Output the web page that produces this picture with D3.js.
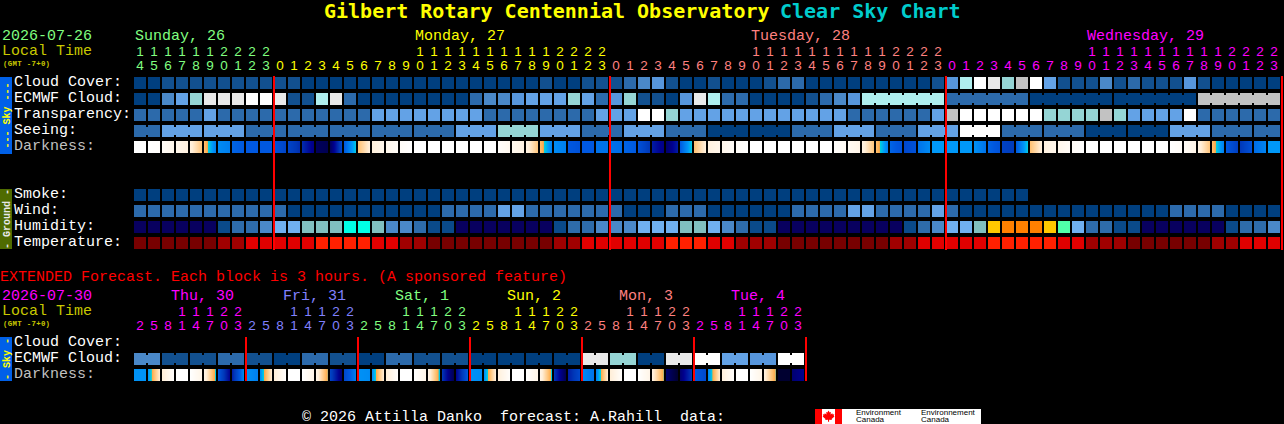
<!DOCTYPE html>
<html><head><meta charset="utf-8">
<script src="https://cdn.jsdelivr.net/npm/d3@7"></script>
<style>
html,body{margin:0;padding:0;background:#000;overflow:hidden}
svg{display:block}
text{font-family:"Liberation Mono",monospace;font-size:15px;white-space:pre}
text.digit{font-family:"Liberation Sans",sans-serif;font-size:13.5px}
</style></head><body>
<script>
// ---------- categories / tick labels ----------
const hourLabels = [14,15,16,17,18,19,20,21,22,23,
  0,1,2,3,4,5,6,7,8,9,10,11,12,13,14,15,16,17,18,19,20,21,22,23,
  0,1,2,3,4,5,6,7,8,9,10,11,12,13,14,15,16,17,18,19,20,21,22,23,
  0,1,2,3,4,5,6,7,8,9,10,11,12,13,14,15,16,17,18,19,20,21,22,23];
const hourDays = [0,0,0,0,0,0,0,0,0,0,
  1,1,1,1,1,1,1,1,1,1,1,1,1,1,1,1,1,1,1,1,1,1,1,1,
  2,2,2,2,2,2,2,2,2,2,2,2,2,2,2,2,2,2,2,2,2,2,2,2,
  3,3,3,3,3,3,3,3,3,3,3,3,3,3,3,3,3,3,3,3,3,3,3,3];
const dayNames = ["Sunday, 26","Monday, 27","Tuesday, 28","Wednesday, 29"];
const dayLabelCols = [0,20,44,68];
const dayColors = ["#80ff80","#ffff00","#ff8080","#ff00ff"];
const dayBoundaryCols = [10,34,58,82];
const skyRows = ["Cloud Cover:","ECMWF Cloud:","Transparency:","Seeing:","Darkness:"];
const groundRows = ["Smoke:","Wind:","Humidity:","Temperature:"];

// ---------- hourly series (levels into the palettes below) ----------
const cloudCover = [0,0,1,1,1,1,1,1,1,1, 1,1,0,0,0,0,0,0,0,0, 0,0,0,0,0,0,0,0,0,1, 0,0,1,1,1,2,3,4,1,0,
  0,1,0,0,0,1,2,2,0,0, 0,0,0,0,0,0,0,1,4,7, 10,8,6,9,10,5,1,1,1,3, 1,2,1,1,1,4,1,0,0,0, 0,0];
const ecmwfCloud = [0,0,3,5,6,8,8,8,10,10, 8,1,1,7,8,2,0,0,0,0, 0,0,0,0,2,3,3,4,5,5, 5,6,5,2,4,6,1,1,0,4,
  8,7,2,2,0,0,0,0,1,2, 3,4, 7,7,7,7,7,7, 2,2,2,2,2,2, 0,0,0,0,0,0, 0,0,0,0,0,0, 9,9,9,9,9,9];
const transparency = [2,2,2,2,2,5,2,2,2,2, 2,2,2,2,2,2,2,5,5,5, 5,5,5,5,5,2,2,2,2,2, 2,2,2,5,5,5,10,10,6,5,
  5,5,5,5,5,5,5,5,5,5, 5,2,2,2,2,2,2,5,9,10, 10,10,10,10,10,6,6,6,6,9, 6,5,5,5,5,10,2,2,2,2, 2,2];
const seeingBlocks = [2,5,5,2,2,2,2,2,5,6,5,2,5,2,0,0,2,5,2,5,10,2,2,0,0,5,2,2];
const darkness = [[0,0],[0,.1],[.2,.5],[.5,.8],[.8,1.9],[2,3.4],[3.2,3.4],[3.8,4],[4,4],[4,4],
  [4.2,4.6],[4.6,5.2],[5.2,6.2],[6.8,7],[6.8,4.5],[4,2.55],[2,.9],[.9,.5],[.5,.2],[.2,0],
  [0,0],[0,0],[0,0],[0,0],[0,0],[0,0],[.1,.4],[.4,.7],[.7,1.9],[2,3.4],
  [3.2,3.4],[4,4.2],[4,4],[3.6,3.6],[3.6,3.7],[3.8,4],[4.2,5],[5.5,6.2],[6.6,5.5],[4,2.55],
  [2,.9],[.8,.5],[.5,.2],[.2,0],[0,0],[0,0],[0,0],[0,0],[0,0],[0,0],
  [.1,.3],[.3,.6],[.7,1.9],[2,3.4],[3.8,4.2],[4.5,4.2],[3.6,3.2],[3,3],[3,3],[3,3],
  [3.1,3.6],[3.8,4.2],[4.7,4.9],[4,2.55],[2,.9],[.8,.5],[.5,.2],[.2,0],[0,0],[0,0],
  [0,0],[0,0],[0,0],[0,0],[0,.2],[.2,.6],[.7,1.9],[2,3.4],[4,4.8],[5,4.2],[3.7,3.3],[3,3]];
const smoke = [0,0,0,0,0,0,0,0,0,0, 0,0,0,0,0,0,0,0,0,0, 0,0,0,0,0,0,0,0,0,0, 0,0,0,0,0,0,0,0,0,0,
  0,0,0,0,0,0,0,0,0,0, 0,0,0,0,0,0,0,0,0,0, 0,0,0,0];
const wind = [2,2,2,2,2,2,2,2,2,2, 2,0,0,0,0,0,0,0,0,0, 0,0,2,2,2,2,5,5,2,2, 2,2,2,2,2,0,0,0,2,2,
  2,0,0,0,0,0,0,2,2,2, 2,5,5,2,2,2,2,5,2,0, 0,0,0,0,0,0,0,0,0,0, 0,0,0,0,2,2,2,2,0,0, 0,0];
const humidity = [0,0,0,0,0,0,1,2,2,3, 4,4,5,5,5,6,6,5,3,3, 2,1,1,0,0,0,0,0,0,0, 1,2,2,3,3,3,4,4,4,5,
  5,4,3,2,1,1,0,0,0,0, 0,0,0,0,0,1,2,3,4,4, 5,8,9,9,9,8,7,4,2,2, 1,1,0,0,0,0,0,0,1,2, 2,3];
const temperature = [0,0,0,0,0,0,1,1,2,2, 2,2,2,3,3,3,3,2,2,1, 1,0,0,0,0,0,0,0,0,0, 1,1,2,2,2,2,2,2,3,3,
  3,2,2,1,1,1,0,0,0,0, 0,0,0,0,1,1,2,2,2,2, 2,3,3,3,3,3,2,2,1,1, 1,0,0,0,0,0,0,1,1,2, 2,2];

// ---------- extended forecast ----------
const extHourLabels = [2,5,8,11,14,17,20,23, 2,5,8,11,14,17,20,23, 2,5,8,11,14,17,20,23,
  2,5,8,11,14,17,20,23, 2,5,8,11,14,17,20,23, 2,5,8,11,14,17,20,23];
const extDayNames = ["Thu, 30","Fri, 31","Sat, 1","Sun, 2","Mon, 3","Tue, 4"];
const extDayColors = ["#ff00ff","#8080ff","#80ff80","#ffff00","#ff8080","#ff00ff"];
const extRows = ["Cloud Cover:","ECMWF Cloud:","Darkness:"];
const extEcmwf = [3,1,1,2, 1,0,2,1, 0,2,1,1, 0,0,0,0, 8,6,0,8, 10,5,4,10];
const extDarkness = [[3.1,3.1],[3.1,1],[1,.1],[0,0],[0,.6],[.6,2.6],[4,6],[5.5,3.2],
  [3.1,3.4],[3.2,1],[1,.1],[0,0],[0,.6],[.6,2.5],[4.6,6.5],[4.5,3.4],
  [3.1,3.2],[3.2,1],[1,.1],[0,0],[0,.6],[.6,2.7],[5,7],[6,4],
  [3.1,3.2],[3.2,.9],[.9,.1],[0,0],[0,.6],[.6,2.6],[5,7],[5.5,4.5],
  [3.2,3.6],[3.4,1],[1,.1],[0,0],[0,.6],[.8,2.5],[6.5,7.5],[6.5,5],
  [4,4.5],[3.3,1],[.9,.1],[0,0],[0,.6],[.8,2.5],[7.5,7.5],[6.5,6]];

// ---------- palettes ----------
const cloudPalette = ["#003f7f","#12508f","#2c6aab","#4a88c8","#5796dc","#63a2e6","#95d5d5","#afeeee","#e9e9e9","#c2c2c2","#ffffff"];
const humidityPalette = ["#08005f","#0a4a8a","#2e6cab","#4a88c8","#70b0f0","#80bfbf","#00ffe5","#50ffaa","#ffc800","#ff8000"];
const temperaturePalette = ["#780000","#a00000","#e00000","#ff2000"];
const darkDomain = [0,1,2,2.4,2.5,3,4,5,6,7];
const darkRange = ["#ffffff","#ffeed8","#ffc070","#ffa848","#00d0e0","#0098f8","#0058e0","#0038b8","#000090","#000050"];

// ---------- scales ----------
const W = 1284, H = 424;
const colScale = n => d3.scaleBand().domain(d3.range(n)).range([134, 134 + n*14 - 2]).paddingInner(1/7);
const x = colScale(82), xe = colScale(48);
const rowScale = (rows, y0) => d3.scaleBand().domain(rows).range([y0, y0 + rows.length*16 - 4]).paddingInner(0.25);
const ySky = rowScale(skyRows, 77), yGround = rowScale(groundRows, 189), yExt = rowScale(extRows, 337);
const cloudColor = d3.scaleOrdinal(d3.range(11), cloudPalette);
const humColor = d3.scaleOrdinal(d3.range(10), humidityPalette);
const tempColor = d3.scaleOrdinal(d3.range(4), temperaturePalette);
const darkColor = d3.scaleLinear().domain(darkDomain).range(darkRange).interpolate(d3.interpolateRgb);

const svg = d3.select("body").append("svg").attr("width", W).attr("height", H).attr("viewBox", `0 0 ${W} ${H}`);
svg.append("rect").attr("width", W).attr("height", H).attr("fill", "#000");

function txt(s, px, py, fill, opts = {}) {
  const t = svg.append("text").attr("x", px).attr("y", py).attr("fill", fill).text(s);
  if (opts.size) t.style("font-size", opts.size + "px");
  if (opts.bold) t.style("font-weight", "bold");
  if (opts.family) t.style("font-family", opts.family);
  if (opts.anchor) t.attr("text-anchor", opts.anchor);
  if (opts.spacing) t.style("letter-spacing", opts.spacing + "px");
  if (opts.rotate !== undefined) t.attr("transform", `rotate(${opts.rotate} ${px} ${py})`);
  return t;
}

// blocks: joined(i) says whether column i is tied to column i+1
function drawRow(values, scaleX, y, h, color, joined) {
  const g = svg.append("g");
  const b = scaleX.bandwidth(), step = scaleX.step();
  g.selectAll("rect.c").data(values).join("rect").attr("class", "c")
    .attr("x", (d, i) => scaleX(i)).attr("y", y).attr("width", b).attr("height", h)
    .attr("fill", d => color(d));
  if (joined) {
    g.selectAll("rect.j").data(values.map((d, i) => ({d, i})).filter(e => e.i < values.length - 1 && joined(e.i)))
      .join("rect").attr("class", "j")
      .attr("x", e => scaleX(e.i) + b).attr("y", y + 2).attr("width", step - b).attr("height", h - 4)
      .attr("fill", e => color(e.d));
  }
}
function drawDarkness(pairs, scaleX, y, h) {
  const b = Math.round(scaleX.bandwidth());
  const slices = pairs.flatMap((p, i) => d3.range(b).map(k => ({i, k, v: p[0] + (p[1] - p[0]) * (k + 0.5) / b})));
  svg.append("g").selectAll("rect").data(slices).join("rect")
    .attr("x", s => scaleX(s.i) + s.k).attr("y", y).attr("width", 1.02).attr("height", h)
    .attr("fill", s => darkColor(s.v)).attr("shape-rendering", "crispEdges");
}

// ---------- title ----------
const titleFont = {size: 20, bold: true, family: '"DejaVu Sans Mono",monospace'};
txt("Gilbert Rotary Centennial Observatory", 324, 18, "#ffff00", titleFont);
txt("Clear Sky Chart", 780, 18, "#00cccc", titleFont);

// ---------- left header ----------
txt("2026-07-26", 2, 40, "#80ff80");
txt("Local Time", 2, 55, "#c8c800");
txt("(GMT -7+0)", 3, 65.5, "#c8c800", {size: 7.4, bold: true, spacing: 0.3});
dayNames.forEach((n, i) => txt(n, x(dayLabelCols[i]) + 1, 40, dayColors[i]));

// hour tick labels
const cx = (s, i) => s(i) + s.bandwidth() / 2;
svg.append("g").selectAll("text").data(hourLabels.map((h, i) => ({h, i})).filter(e => e.h >= 10)).join("text")
  .attr("class", "digit").attr("x", e => cx(x, e.i)).attr("y", 55.5).attr("text-anchor", "middle")
  .attr("fill", e => dayColors[hourDays[e.i]]).text(e => Math.floor(e.h / 10));
svg.append("g").selectAll("text").data(hourLabels).join("text")
  .attr("class", "digit").attr("x", (h, i) => cx(x, i)).attr("y", 70).attr("text-anchor", "middle")
  .attr("fill", (h, i) => dayColors[hourDays[i]]).text(h => h % 10);

// ---------- side bars ----------
svg.append("rect").attr("x", 0).attr("y", ySky(skyRows[0])).attr("width", 12).attr("height", 77).attr("fill", "#0060e8");
svg.append("rect").attr("x", 0).attr("y", yGround(groundRows[0])).attr("width", 12).attr("height", 60).attr("fill", "#4f6b00");
svg.append("rect").attr("x", 0).attr("y", yExt(extRows[0])).attr("width", 12).attr("height", 44).attr("fill", "#0060e8");
txt("--- Sky ---", 9.5, 115.5, "#ffff00", {size: 10, bold: true, anchor: "middle", rotate: -90});
txt("- Ground -", 9.5, 219, "#e8e8e8", {size: 10, bold: true, anchor: "middle", rotate: -90});
txt("- Sky -", 9.5, 359, "#ffff00", {size: 10, bold: true, anchor: "middle", rotate: -90});

// ---------- row labels ----------
skyRows.forEach(r => txt(r, 14, ySky(r) + 9, r === "Darkness:" ? "#c0c0c0" : "#ffffff"));
groundRows.forEach(r => txt(r, 14, yGround(r) + 9, "#ffffff"));
extRows.forEach(r => txt(r, 14, yExt(r) + 9, r === "Darkness:" ? "#c0c0c0" : "#ffffff"));

// ---------- main rows ----------
const h = ySky.bandwidth();
const seeingCols = x.domain().map(i => seeingBlocks[Math.floor((i + 1) / 3)]);
drawRow(cloudCover, x, ySky("Cloud Cover:"), h, cloudColor);
drawRow(ecmwfCloud, x, ySky("ECMWF Cloud:"), h, cloudColor, i => i >= 52 && (i - 52) % 6 !== 5);
drawRow(transparency, x, ySky("Transparency:"), h, cloudColor);
drawRow(seeingCols, x, ySky("Seeing:"), h, cloudColor, i => (i + 2) % 3 !== 0);
drawDarkness(darkness, x, ySky("Darkness:"), h);
drawRow(smoke, x, yGround("Smoke:"), h, cloudColor);
drawRow(wind, x, yGround("Wind:"), h, cloudColor);
drawRow(humidity, x, yGround("Humidity:"), h, humColor);
drawRow(temperature, x, yGround("Temperature:"), h, tempColor);

// red day boundaries
svg.append("g").selectAll("rect").data(dayBoundaryCols).join("rect")
  .attr("x", c => 134 + x.step() * c - 1).attr("y", 76).attr("width", 2).attr("height", 174).attr("fill", "#ff0000");

// ---------- extended forecast ----------
txt("EXTENDED Forecast. Each block is 3 hours. (A sponsored feature)", 0, 281, "#ff0000");
txt("2026-07-30", 2, 300, "#ff00ff");
txt("Local Time", 2, 315, "#c8c800");
txt("(GMT -7+0)", 3, 325.5, "#c8c800", {size: 7.4, bold: true, spacing: 0.3});
extDayNames.forEach((n, i) => txt(n, xe(i * 8) + 37, 300, extDayColors[i]));
const extDayOf = i => Math.floor(i / 8);
svg.append("g").selectAll("text").data(extHourLabels.map((h, i) => ({h, i})).filter(e => e.h >= 10)).join("text")
  .attr("class", "digit").attr("x", e => cx(xe, e.i)).attr("y", 315.5).attr("text-anchor", "middle")
  .attr("fill", e => extDayColors[extDayOf(e.i)]).text(e => Math.floor(e.h / 10));
svg.append("g").selectAll("text").data(extHourLabels).join("text")
  .attr("class", "digit").attr("x", (h, i) => cx(xe, i)).attr("y", 330).attr("text-anchor", "middle")
  .attr("fill", (h, i) => extDayColors[extDayOf(i)]).text(h => h % 10);
const extEcmwfCols = xe.domain().map(i => extEcmwf[Math.floor(i / 2)]);
drawRow(extEcmwfCols, xe, yExt("ECMWF Cloud:"), h, cloudColor, i => i % 2 === 0);
drawDarkness(extDarkness, xe, yExt("Darkness:"), h);
svg.append("g").selectAll("rect").data(d3.range(1, 7)).join("rect")
  .attr("x", d => 134 + xe.step() * d * 8 - 1).attr("y", 337).attr("width", 2).attr("height", 44).attr("fill", "#ff0000");

// ---------- footer ----------
txt("\u00a9 2026 Attilla Danko  forecast: A.Rahill  data:", 302, 420.5, "#ffffff");
svg.append("rect").attr("x", 815).attr("y", 409).attr("width", 166).attr("height", 15).attr("fill", "#ffffff");
svg.append("rect").attr("x", 815).attr("y", 409).attr("width", 7).attr("height", 15).attr("fill", "#ff0000");
svg.append("rect").attr("x", 835).attr("y", 409).attr("width", 7).attr("height", 15).attr("fill", "#ff0000");
svg.append("path").attr("fill", "#ff0000")
  .attr("d", "M828.5 410.5l1.2 2 1.3-.6-.5 2.6 1.8-1.2.4 1.2 1.6-.2-.6 1.8.8.5-2.9 2.3.3 1.2-2.8-.4v2h-1.1v-2l-2.8.4.3-1.2-2.9-2.3.8-.5-.6-1.8 1.6.2.4-1.2 1.8 1.2-.5-2.6 1.3.6z");
const logo = {size: 8, family: '"Liberation Sans",sans-serif'};
txt("Environment", 856, 415, "#000", logo);
txt("Canada", 856, 422, "#000", logo);
txt("Environnement", 921, 415, "#000", logo);
txt("Canada", 921, 422, "#000", logo);
</script>
</body></html>
